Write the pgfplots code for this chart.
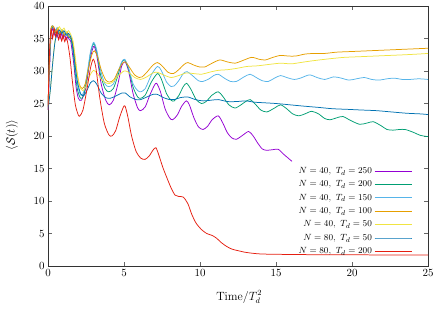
\documentclass[border=0pt]{standalone}
\usepackage{pgfplots}
\pgfplotsset{compat=1.18}
\definecolor{gpPurple}{HTML}{9400D3}
\definecolor{gpGreen}{HTML}{009E73}
\definecolor{gpSky}{HTML}{56B4E9}
\definecolor{gpOrange}{HTML}{E69F00}
\definecolor{gpYellow}{HTML}{F0E442}
\definecolor{gpBlue}{HTML}{0072B2}
\definecolor{gpRed}{HTML}{E51E10}
\newlength\legW
\begin{document}%
\settowidth{\legW}{\fontsize{9.5}{11}\selectfont $N = 80,\ T_d = 200$}%
\begin{tikzpicture}
\path[use as bounding box] (-48bp,-44bp) rectangle (388bp,266bp);
\begin{axis}[
  scale only axis, width=380bp, height=260bp,
  xmin=0, xmax=25, ymin=0, ymax=40,
  xtick={0,5,...,25}, ytick={0,5,...,40},
  tick pos=both, tick align=inside, major tick length=4bp,
  tick style={black!60, line width=0.4pt},
  axis line style={black!80, line width=0.6pt},
  tick label style={font=\fontsize{11}{13}\selectfont},
  xlabel={$\mathrm{Time}/T_d^2$},
  ylabel={$\langle \mathcal{S}(t)\rangle$},
  label style={font=\fontsize{12}{14}\selectfont},
  xlabel style={at={(axis description cs:0.503,-0.119)}, anchor=center},
  ylabel style={at={(axis description cs:-0.095,0.504)}, anchor=center},
  every axis plot/.append style={line width=0.75pt, smooth, tension=0.45},
  legend cell align=right,
  legend image code/.code={\path (0bp,0bp);
    \draw[mark repeat=2,mark phase=2,#1,overlay] plot coordinates {({\legW+5.2bp},0bp) ({\legW+24bp},0bp) ({\legW+42.2bp},0bp)};},
  legend style={draw=none, fill=none, at={(axis cs:21.65,15.85)}, anchor=north east,
    row sep=1.8bp,
    font=\fontsize{9.5}{11}\selectfont},
]
% N=40, Td=250
\addplot[color=gpPurple] coordinates {
(0,24) (0.1,30) (0.2,35.5) (0.3,36.5) (0.4,35.5) (0.5,36.3) (0.6,35.2) (0.7,36) (0.8,35) (0.9,35.8) (1.0,35) (1.1,35.6) (1.2,34.8) (1.3,35.3) (1.4,34.8) (1.5,34.5) (1.7,31) (1.85,27.5) (2.0,25.8) (2.2,25.5) (2.5,27.5) (2.75,31.5) (3.0,33.8) (3.2,32.5) (3.5,28) (3.8,25.5) (4.03,24.8) (4.3,25.5) (4.6,28) (4.85,30.8) (5.07,31.4) (5.3,30) (5.6,26.5) (5.9,24.3) (6.1,23.9) (6.4,24.5) (6.7,26.3) (7.0,27.8) (7.15,28.1) (7.4,26.8) (7.7,24.2) (8.0,22.8) (8.2,22.5) (8.5,23.2) (8.8,24.6) (9.1,25.4) (9.3,24.8) (9.6,22.8) (9.9,21.4) (10.2,21.0) (10.5,21.5) (10.8,22.5) (11.2,23.1) (11.5,22.0) (11.8,20.5) (12.1,19.7) (12.4,19.5) (12.8,20.1) (13.2,20.7) (13.5,20.0) (13.8,18.9) (14.1,18.0) (14.4,17.8) (14.8,17.9) (15.15,17.95) (15.5,17.2) (15.8,16.6) (16.05,16.1)
};
\addlegendentry{$N = 40,\ T_d = 250$}
% N=40, Td=200
\addplot[color=gpGreen] coordinates {
(0,24.5) (0.1,31) (0.2,36) (0.3,36.8) (0.45,35.8) (0.6,36.5) (0.75,35.6) (0.9,36.2) (1.05,35.4) (1.2,35.9) (1.35,35.2) (1.5,35.0) (1.65,33) (1.8,29.5) (1.95,27) (2.15,25.8) (2.35,26.3) (2.6,29.5) (2.8,32.8) (3.0,34.2) (3.2,33) (3.45,29.5) (3.75,27.3) (4.0,26.8) (4.3,27.3) (4.6,29.3) (4.85,31.3) (5.05,31.7) (5.3,30.3) (5.6,27.5) (5.9,26) (6.1,25.8) (6.4,26.3) (6.8,28.3) (7.2,29.6) (7.45,28.8) (7.8,26.5) (8.1,25.5) (8.3,25.4) (8.6,26.2) (8.9,27.6) (9.12,28.1) (9.4,27.2) (9.75,25.6) (10.1,25.0) (10.4,25.3) (10.8,26.3) (11.2,26.8) (11.5,26.1) (11.9,24.8) (12.3,24.3) (12.7,24.8) (13.0,25.3) (13.3,25.6) (13.6,25.0) (14.0,24.0) (14.4,23.7) (14.9,24.3) (15.3,24.8) (15.7,24.2) (16.1,23.4) (16.5,23.1) (16.9,23.4) (17.35,23.8) (17.8,23.4) (18.2,22.7) (18.55,22.5) (19.0,22.8) (19.4,23.0) (19.9,22.4) (20.5,21.8) (21.0,22.0) (21.4,22.2) (21.9,21.6) (22.3,21.0) (22.7,20.9) (23.1,21.0) (23.5,21.0) (24.0,20.6) (24.5,20.1) (25,19.9)
};
\addlegendentry{$N = 40,\ T_d = 200$}
% N=40, Td=150
\addplot[color=gpSky] coordinates {
(0,24.5) (0.1,31.5) (0.2,36.2) (0.3,37) (0.45,36) (0.6,36.7) (0.75,35.8) (0.9,36.4) (1.05,35.6) (1.2,36) (1.35,35.4) (1.5,35.3) (1.65,33.8) (1.8,30.5) (1.95,27.8) (2.15,26.3) (2.35,26.8) (2.6,30) (2.8,33) (3.0,34.4) (3.2,33.3) (3.45,30.2) (3.75,28) (4.0,27.6) (4.3,28) (4.6,29.8) (4.85,31.4) (5.05,31.8) (5.3,30.5) (5.6,28) (5.9,27) (6.1,26.8) (6.4,27.3) (6.8,29.4) (7.2,30.7) (7.45,30.1) (7.8,28.3) (8.1,27.6) (8.3,27.7) (8.6,28.5) (8.9,29.6) (9.15,29.9) (9.5,29.3) (9.9,28.5) (10.2,28.4) (10.6,28.8) (10.9,29.3) (11.2,29.5) (11.6,28.9) (12.0,28.4) (12.4,28.4) (12.9,29.1) (13.3,29.5) (13.7,29.0) (14.1,28.5) (14.5,28.4) (14.9,28.9) (15.3,29.3) (15.7,29.0) (16.2,28.7) (16.6,28.9) (17.2,29.4) (17.7,29.0) (18.2,28.7) (18.8,29.1) (19.3,28.9) (19.8,28.6) (20.3,28.8) (20.8,29.0) (21.3,28.7) (21.8,28.6) (22.3,28.8) (22.8,28.9) (23.3,28.7) (23.8,28.7) (24.4,28.8) (25,28.7)
};
\addlegendentry{$N = 40,\ T_d = 150$}
% N=40, Td=100
\addplot[color=gpOrange] coordinates {
(0,24.5) (0.1,32) (0.2,36.5) (0.35,36.9) (0.5,36) (0.65,36.6) (0.8,35.7) (0.95,36.3) (1.1,35.5) (1.25,36) (1.4,35.3) (1.55,35) (1.7,33.3) (1.85,30.5) (2.05,28) (2.25,27.3) (2.45,28) (2.7,30.8) (2.9,32.6) (3.05,33.1) (3.25,32.3) (3.5,30.2) (3.8,28.6) (4.05,28.3) (4.35,28.7) (4.65,30.2) (4.9,31.2) (5.1,31.4) (5.35,30.6) (5.7,29.4) (6.0,29.0) (6.2,29.1) (6.5,29.8) (6.9,30.9) (7.2,31.3) (7.5,30.8) (7.9,29.8) (8.25,29.6) (8.6,30.2) (8.95,31.0) (9.2,31.3) (9.6,30.9) (10.0,30.6) (10.3,30.6) (10.8,31.2) (11.3,31.7) (11.8,31.4) (12.3,31.2) (12.8,31.6) (13.4,32.1) (13.9,31.8) (14.3,31.7) (14.8,32.1) (15.3,32.4) (15.8,32.3) (16.3,32.3) (16.9,32.6) (17.5,32.7) (18.2,32.7) (19,32.9) (20,33.0) (21,33.1) (22,33.2) (23,33.3) (24,33.4) (25,33.5)
};
\addlegendentry{$N = 40,\ T_d = 100$}
% N=40, Td=50
\addplot[color=gpYellow] coordinates {
(0,24.5) (0.15,27) (0.3,31) (0.45,34.5) (0.6,36.3) (0.75,36.8) (0.9,36.2) (1.05,36.6) (1.2,35.9) (1.35,36.2) (1.5,35.6) (1.65,34.6) (1.8,32) (1.95,29.2) (2.1,27.5) (2.3,27.0) (2.5,27.6) (2.75,29.3) (3.0,30.1) (3.25,29.6) (3.55,28.6) (3.9,28.1) (4.2,28.2) (4.6,29.2) (5.0,30.0) (5.3,29.8) (5.7,29.0) (6.1,28.7) (6.5,29.1) (6.9,29.7) (7.2,29.8) (7.6,29.4) (8.1,29.0) (8.6,29.3) (9.1,29.7) (9.6,29.6) (10.1,29.5) (10.6,29.8) (11.2,30.1) (11.8,30.2) (12.4,30.4) (13.1,30.7) (13.8,30.8) (14.5,31.0) (15.3,31.2) (16,31.1) (16.6,31.3) (17.5,31.6) (18.6,31.9) (19.5,32.1) (20.5,32.2) (21.5,32.3) (22.5,32.4) (23.5,32.5) (24.3,32.6) (25,32.7)
};
\addlegendentry{$N = 40,\ T_d = 50$}
% N=80, Td=50
\addplot[color=gpBlue] coordinates {
(0,24) (0.15,27) (0.3,31) (0.45,34.3) (0.6,35.8) (0.75,36.3) (0.9,35.8) (1.05,36.2) (1.2,35.5) (1.35,35.8) (1.5,35.2) (1.65,33.5) (1.8,30.5) (1.95,28.2) (2.15,26.5) (2.35,26.2) (2.6,27.2) (2.8,28.2) (3.0,28.5) (3.2,28.0) (3.5,26.6) (3.8,25.9) (4.1,25.8) (4.5,26.2) (4.85,26.6) (5.1,26.6) (5.4,26.0) (5.8,25.6) (6.1,25.6) (6.5,26.0) (6.9,26.4) (7.2,26.4) (7.6,25.9) (8.0,25.6) (8.3,25.6) (8.7,25.9) (9.2,26.0) (9.7,25.6) (10.2,25.4) (10.7,25.5) (11.2,25.6) (11.8,25.3) (12.4,25.3) (13.0,25.4) (13.6,25.2) (14.3,25.1) (15,25.0) (15.9,24.8) (16.8,24.6) (17.8,24.4) (18.7,24.2) (19.7,24.1) (20.6,24.0) (21.6,23.9) (22.6,23.7) (23.6,23.5) (24.5,23.4) (25,23.3)
};
\addlegendentry{$N = 80,\ T_d = 50$}
% N=80, Td=200
\addplot[color=gpRed] coordinates {
(0,24) (0.1,33) (0.2,36.5) (0.3,35) (0.4,36.6) (0.5,35.3) (0.6,36.2) (0.7,34.8) (0.8,35.8) (0.9,34.6) (1.0,35.5) (1.1,34.5) (1.2,35.2) (1.3,34.3) (1.45,32) (1.6,28.5) (1.8,24.8) (2.0,23.2) (2.1,23.1) (2.3,24.0) (2.55,27) (2.8,30.5) (2.98,31.8) (3.15,30.5) (3.4,26) (3.7,22) (4.0,20.2) (4.2,20.0) (4.45,20.8) (4.7,22.8) (4.95,24.4) (5.07,24.6) (5.25,23.0) (5.5,20.0) (5.8,17.6) (6.1,16.6) (6.38,16.4) (6.65,16.9) (6.9,17.8) (7.1,18.2) (7.3,17.0) (7.55,15.2) (7.8,13.7) (8.1,12.0) (8.36,10.9) (8.6,10.7) (8.9,10.6) (9.2,9.6) (9.45,8.0) (9.74,6.6) (10.1,5.6) (10.44,5.0) (10.8,4.7) (11.1,4.26) (11.4,3.6) (11.76,3.0) (12.1,2.6) (12.5,2.36) (13.0,2.1) (13.5,1.95) (14,1.85) (15,1.8) (17,1.75) (20,1.72) (23,1.7) (25,1.7)
};
\addlegendentry{$N = 80,\ T_d = 200$}
\end{axis}
\end{tikzpicture}
\end{document}
